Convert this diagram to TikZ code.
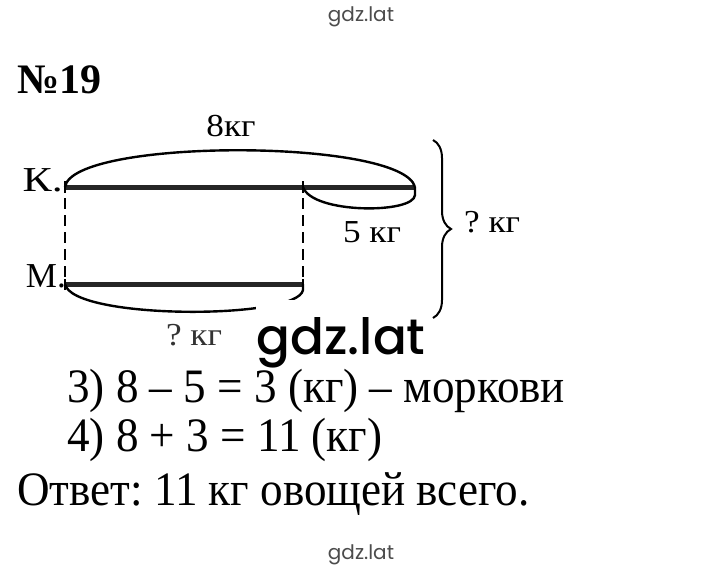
\documentclass[tikz,border=0pt]{standalone}
\usepackage{fontspec}
\setmainfont{Liberation Serif}
\newfontfamily\condserif[FakeStretch=0.94]{Liberation Serif}
\newfontfamily\wideserif[FakeStretch=1.1]{Liberation Serif}
\newfontfamily\kserif[FakeStretch=1.25]{Liberation Serif}
\newfontfamily\wmfont{Poppins}
\newfontfamily\wmbigfont{Poppins Medium}
\usetikzlibrary{decorations.pathreplacing}
\frenchspacing
\begin{document}
\begin{tikzpicture}[x=1pt,y=-1pt,
  lbl/.style={inner sep=0pt, font=\fontsize{35}{38}\selectfont},
  small/.style={inner sep=0pt, font=\wideserif\fontsize{32}{34}\selectfont},
  sol/.style={inner sep=0pt, anchor=base west, font=\condserif\fontsize{48}{52}\selectfont},
  bar/.style={line width=5pt, draw=black!85},
  arcline/.style={line width=2.4pt},
  dashline/.style={line width=2pt, dash pattern=on 11pt off 6pt},
  wmsmall/.style={inner sep=0pt, text=black!70, font=\wmfont\fontsize{20}{22}\selectfont},
  wmbig/.style={inner sep=0pt, text=black, font=\wmbigfont\fontsize{50}{54}\selectfont}]
\useasboundingbox (0,0) rectangle (720,571);
\fill[white] (0,0) rectangle (720,571);

% header
\node[wmsmall, anchor=base] (wtop) at (361,21) {gdz.lat};
\node[inner sep=0pt, anchor=base west, font=\bfseries\fontsize{42}{46}\selectfont] (num) at (17,93) {№19};

% bars
\coordinate (k0) at (65,187);
\coordinate (k1) at (303,187);
\coordinate (k2) at (415,187);
\coordinate (m0) at (65,284);
\coordinate (m1) at (303,284);
\draw[bar] (k0) -- (k2);
\draw[bar] (m0) -- (m1);
\draw[line width=1.5pt] ([yshift=-6pt]k1) -- ([yshift=5pt]k1);
\draw[line width=1.5pt] ([yshift=-6pt]m1) -- ([yshift=5pt]m1);
\draw[line width=1.5pt] ([yshift=-6pt]k0) -- ([yshift=5pt]k0);
\draw[line width=1.5pt] ([yshift=-6pt]m0) -- ([yshift=5pt]m0);
\draw[dashline] ([yshift=6pt]k0) -- ([yshift=-6pt]m0);
\draw[dashline] ([yshift=6pt]k1) -- ([yshift=-6pt]m1);

% arcs
\draw[arcline] (k0) .. controls (72,138) and (402,138) .. (k2);
\draw[arcline] (k1) .. controls (312,214) and (414,214) .. ([yshift=-8pt]k2) -- (k2);
\draw[arcline] (m0) .. controls (72,320) and (298,320) .. ([yshift=-6pt]m1) -- (m1);

% labels
\node[inner sep=0pt, anchor=base east, font=\kserif\fontsize{35}{38}\selectfont] (K) at (63,191) {К.};
\node[lbl, anchor=base east] (M) at (66,287) {М.};
\node[small, anchor=base] (l8) at (231,136) {8кг};
\node[small, anchor=base] (l5) at (372,242) {5 кг};
\node[small, anchor=base, text=black!80] (lq) at (194,345) {? кг};

% brace
\draw[line width=2pt, decoration={brace, amplitude=18pt}, decorate] (433,140) -- (433,318);
\node[small, anchor=base west] (lq2) at (464,232) {? кг};

% watermark
\fill[white] (256,300) rectangle (430,366);
\node[wmbig, anchor=base] (wbig) at (341,354) {gdz.lat};

% solution
\node[sol] (s3) at (67,402) {3) 8 – 5 = 3 (кг) – моркови};
\node[sol] (s4) at (67,451) {4) 8 + 3 = 11 (кг)};
\node[sol] (ans) at (17,505) {Ответ: 11 кг овощей всего.};

\node[wmsmall, anchor=base] (wbot) at (361,559) {gdz.lat};
\end{tikzpicture}
\end{document}
